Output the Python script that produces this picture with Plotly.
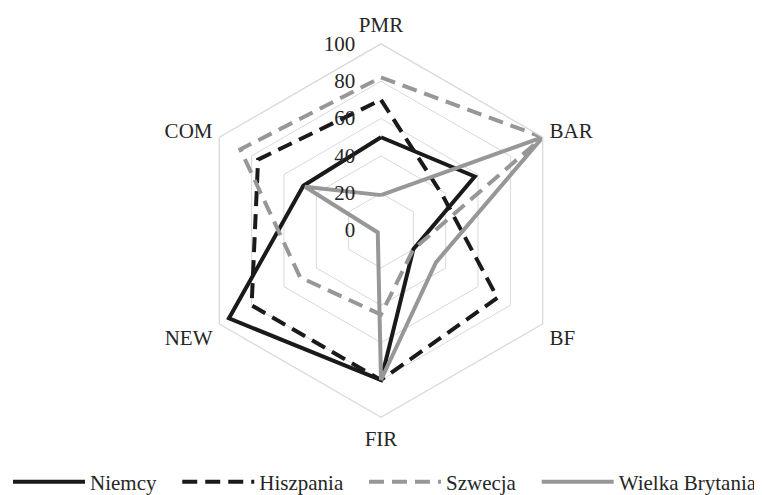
import plotly.graph_objects as go

categories = ["PMR", "BAR", "BF", "FIR", "NEW", "COM"]
niemcy = [50, 58, 20, 80, 94, 48]
hiszpania = [70, 38, 72, 80, 80, 76]
szwecja = [82, 100, 20, 45, 50, 87]
wielka_brytania = [19, 100, 34, 80, 2, 47]
radial_ticks = [0, 20, 40, 60, 80, 100]
series_names = ["Niemcy", "Hiszpania", "Szwecja", "Wielka Brytania"]

PAD = "\u00a0" * 3  # extra spacing between legend entries
styles = [
    ("#1a1a1a", "solid", PAD),
    ("#1a1a1a", "15px,8px", PAD),
    ("#979797", "15px,8px", PAD),
    ("#979797", "solid", ""),
]
values = [niemcy, hiszpania, szwecja, wielka_brytania]

fig = go.Figure()
for name, vals, (color, dash, pad) in zip(series_names, values, styles):
    fig.add_trace(go.Scatterpolar(
        r=vals + [vals[0]],
        theta=categories + [categories[0]],
        mode="lines",
        name=name + pad,
        line=dict(color=color, width=4, dash=dash),
    ))

font = dict(family="Liberation Serif, Times New Roman, serif", size=21, color="#262626")

# page body has an 8px margin, so figure coordinates are screen coordinates minus 8
W, H = 762, 495
ml, mr, mt, mb = 0, 0, 0, 0
cx, cy, R = 373, 223.5, 187.5
pw, ph = W - ml - mr, H - mt - mb

fig.update_layout(
    width=W, height=H,
    paper_bgcolor="white", plot_bgcolor="white",
    font=font,
    margin=dict(l=ml, r=mr, t=mt, b=mb),
    polar=dict(
        domain=dict(
            x=[(cx - R - ml) / pw, (cx + R - ml) / pw],
            y=[(H - mb - (cy + R)) / ph, (H - mb - (cy - R)) / ph],
        ),
        bgcolor="white",
        gridshape="linear",
        radialaxis=dict(
            range=[0, 100], tickvals=radial_ticks, angle=90, tickangle=90,
            showline=False, ticks="outside", ticklen=18, tickcolor="rgba(0,0,0,0)",
            gridcolor="#d9d9d9", gridwidth=1.3,
            side="counterclockwise", tickfont=font,
        ),
        angularaxis=dict(
            direction="clockwise", rotation=90, showgrid=False,
            showline=True, linecolor="#d9d9d9", linewidth=1.3,
            ticks="outside", ticklen=3, tickcolor="rgba(0,0,0,0)",
            tickfont=font,
        ),
    ),
    legend=dict(
        orientation="h", x=0, xanchor="left", y=(H - mb - 476) / ph, yanchor="middle",
        font=font, itemwidth=72, bgcolor="rgba(0,0,0,0)",
    ),
)

fig.write_html("out.html")
